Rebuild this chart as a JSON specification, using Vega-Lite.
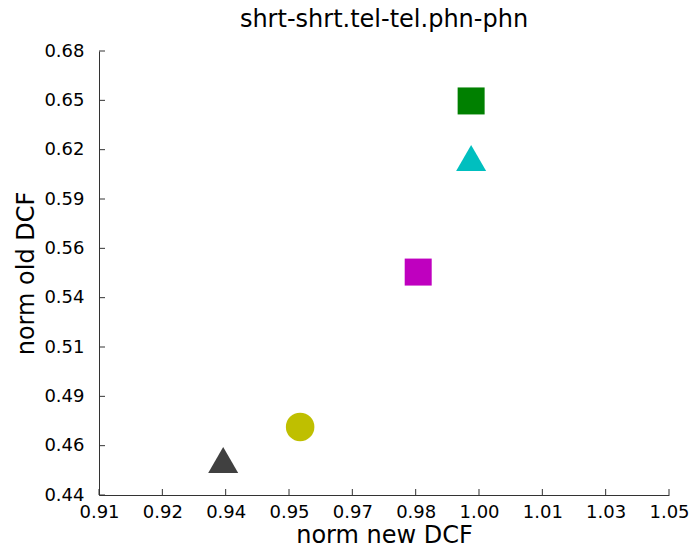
{
  "$schema": "https://vega.github.io/schema/vega-lite/v6.json",
  "width": 570,
  "height": 444,
  "autosize": {"type": "none"},
  "padding": {"left": 99, "top": 51, "right": 25, "bottom": 55},
  "background": "white",
  "title": {
    "text": "shrt-shrt.tel-tel.phn-phn",
    "font": "DejaVu Sans",
    "fontSize": 24,
    "fontWeight": "normal",
    "color": "#000000",
    "anchor": "middle",
    "offset": 10
  },
  "config": {
    "view": {"stroke": null},
    "axis": {
      "grid": false,
      "domainColor": "#333333",
      "domainWidth": 1,
      "labelFont": "DejaVu Sans",
      "labelFontSize": 18,
      "labelColor": "#000000",
      "labelFlush": false,
      "labelOverlap": false,
      "titleFont": "DejaVu Sans",
      "titleFontSize": 24,
      "titleFontWeight": "normal",
      "titleColor": "#000000"
    }
  },
  "datasets": {
    "points": [
      {"system": "a", "newDCF": 0.9405, "oldDCF": 0.4589, "shape": "triangle-up", "color": "#404040"},
      {"system": "b", "newDCF": 0.9594, "oldDCF": 0.4768, "shape": "circle", "color": "#bfbf00"},
      {"system": "c", "newDCF": 0.9884, "oldDCF": 0.5605, "shape": "square", "color": "#bf00bf"},
      {"system": "d", "newDCF": 1.0014, "oldDCF": 0.6222, "shape": "triangle-up", "color": "#00bfbf"},
      {"system": "e", "newDCF": 1.0014, "oldDCF": 0.6530, "shape": "square", "color": "#008000"}
    ],
    "xticks": [
      {"v": 0.91}, {"v": 0.92556}, {"v": 0.94111}, {"v": 0.95667}, {"v": 0.97222},
      {"v": 0.98778}, {"v": 1.00333}, {"v": 1.01889}, {"v": 1.03444}, {"v": 1.05}
    ],
    "yticks": [
      {"v": 0.44}, {"v": 0.46667}, {"v": 0.49333}, {"v": 0.52}, {"v": 0.54667},
      {"v": 0.57333}, {"v": 0.6}, {"v": 0.62667}, {"v": 0.65333}, {"v": 0.68}
    ]
  },
  "layer": [
    {
      "data": {"name": "points"},
      "mark": {"type": "point", "filled": true, "opacity": 1},
      "encoding": {
        "x": {
          "field": "newDCF",
          "type": "quantitative",
          "title": "norm new DCF",
          "scale": {"domain": [0.91, 1.05], "nice": false, "zero": false},
          "axis": {
            "values": [0.91, 0.92556, 0.94111, 0.95667, 0.97222, 0.98778, 1.00333, 1.01889, 1.03444, 1.05],
            "labelExpr": "['0.91','0.92','0.94','0.95','0.97','0.98','1.00','1.01','1.03','1.05'][round((datum.value-0.91)/0.14*9)]",
            "ticks": false,
            "labelPadding": 8,
            "titlePadding": 2
          }
        },
        "y": {
          "field": "oldDCF",
          "type": "quantitative",
          "title": "norm old DCF",
          "scale": {"domain": [0.44, 0.68], "nice": false, "zero": false},
          "axis": {
            "values": [0.44, 0.46667, 0.49333, 0.52, 0.54667, 0.57333, 0.6, 0.62667, 0.65333, 0.68],
            "labelExpr": "['0.44','0.46','0.49','0.51','0.54','0.56','0.59','0.62','0.65','0.68'][round((datum.value-0.44)/0.24*9)]",
            "ticks": false,
            "labelPadding": 15,
            "titlePadding": 5
          }
        },
        "shape": {"field": "shape", "type": "nominal", "scale": null},
        "color": {"field": "color", "type": "nominal", "scale": null},
        "size": {
          "field": "shape",
          "type": "nominal",
          "scale": {"domain": ["triangle-up", "circle", "square"], "range": [900, 729, 441]},
          "legend": null
        }
      }
    },
    {
      "description": "inward ticks along the bottom axis",
      "data": {"name": "xticks"},
      "mark": {"type": "tick", "orient": "vertical", "size": 6, "thickness": 1, "yOffset": -3, "color": "#333333", "opacity": 1},
      "encoding": {
        "x": {"field": "v", "type": "quantitative"},
        "y": {"datum": 0.44, "type": "quantitative"}
      }
    },
    {
      "description": "inward ticks along the left axis",
      "data": {"name": "yticks"},
      "mark": {"type": "tick", "orient": "horizontal", "size": 6, "thickness": 1, "xOffset": 3, "color": "#333333", "opacity": 1},
      "encoding": {
        "y": {"field": "v", "type": "quantitative"},
        "x": {"datum": 0.91, "type": "quantitative"}
      }
    }
  ]
}
